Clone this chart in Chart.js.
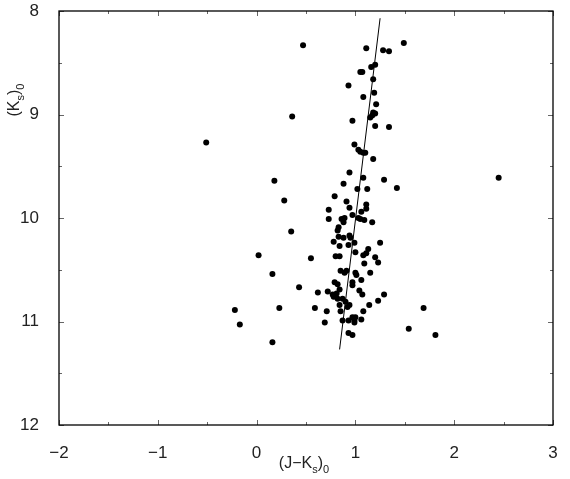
<!DOCTYPE html>
<html>
<head>
<meta charset="utf-8">
<script src="https://cdn.jsdelivr.net/npm/chart.js@4.4.1/dist/chart.umd.min.js"></script>
<style>
html, body { margin: 0; padding: 0; background: #fff; }
</style>
</head>
<body>
<canvas id="cmd" width="570" height="479"></canvas>
<script>
// colour (J-Ks)0 and magnitude (Ks)0 of each star
var colorJK = [
  0.47, 1.11, 1.28, 1.34, 1.49, 1.20, 1.16, 1.05, 1.07, 1.18,
  0.93, 1.19, 1.08, 1.21, 0.36, 1.18, 1.20, 1.17, 1.15, 0.97,
  1.20, 1.34, -0.51, 0.99, 1.03, 1.05, 1.08, 1.10, 1.18, 0.94,
  0.18, 1.08, 1.29, 2.45, 0.88, 1.02, 1.12, 1.42, 0.79, 0.28,
  0.91, 0.94, 1.11, 1.11, 0.73, 1.06, 0.97, 0.73, 0.86, 0.89,
  1.03, 1.05, 1.09, 1.17, 0.88, 0.83, 0.35, 0.82, 0.83, 0.88,
  0.94, 0.95, 0.78, 0.84, 0.93, 0.99, 1.25, 1.13, 1.00, 0.02,
  0.55, 0.80, 0.84, 1.08, 1.11, 1.20, 1.23, 1.09, 0.16, 0.85,
  0.89, 0.91, 1.00, 1.01, 1.15, 1.06, 0.43, 0.79, 0.82, 0.97,
  0.97, 0.62, 0.72, 0.77, 0.81, 0.84, 1.04, 1.07, 1.29, 0.78,
  0.82, 0.87, 0.90, 0.92, 0.94, 0.84, 0.85, 1.14, 1.23, 0.23,
  0.59, -0.22, 0.71, 1.08, 1.69, -0.17, 0.69, 0.87, 0.93, 0.97,
  0.99, 1.00, 1.06, 0.99, 1.54, 0.93, 0.97, 1.81, 0.16
];
var magK = [
  8.33, 8.36, 8.38, 8.39, 8.31, 8.52, 8.54, 8.59, 8.59, 8.66,
  8.72, 8.79, 8.83, 8.90, 9.02, 8.98, 8.99, 9.01, 9.03, 9.06,
  9.11, 9.12, 9.27, 9.29, 9.34, 9.36, 9.37, 9.37, 9.43, 9.56,
  9.64, 9.61, 9.63, 9.61, 9.67, 9.72, 9.72, 9.71, 9.79, 9.83,
  9.84, 9.90, 9.87, 9.91, 9.92, 9.94, 9.97, 10.01, 10.01, 10.00,
  10.00, 10.01, 10.02, 10.04, 10.04, 10.09, 10.13, 10.12, 10.18, 10.19,
  10.17, 10.19, 10.23, 10.27, 10.26, 10.24, 10.24, 10.30, 10.33, 10.36,
  10.39, 10.37, 10.37, 10.36, 10.34, 10.38, 10.43, 10.44, 10.54, 10.51,
  10.53, 10.51, 10.53, 10.55, 10.53, 10.60, 10.67, 10.62, 10.64, 10.62,
  10.65, 10.72, 10.71, 10.74, 10.73, 10.69, 10.70, 10.74, 10.74, 10.76,
  10.78, 10.78, 10.81, 10.86, 10.84, 10.84, 10.90, 10.84, 10.80, 10.87,
  10.87, 10.89, 10.90, 10.90, 10.87, 11.03, 11.01, 10.99, 10.99, 10.96,
  10.99, 10.96, 10.98, 11.01, 11.07, 11.11, 11.13, 11.13, 11.20
];
// fitted sequence line
var fitJK = [0.84, 1.25];
var fitK = [11.27, 8.07];

var xMin = -2, xMax = 3;
var yMin = 8, yMax = 12;

var stars = colorJK.map(function (v, i) { return { x: v, y: magK[i] }; });
var fit = fitJK.map(function (v, i) { return { x: v, y: fitK[i] }; });

var textColor = '#222';
var bigFont = '16px "Liberation Sans", Arial, sans-serif';
var smallFont = '11px "Liberation Sans", Arial, sans-serif';

function drawSub(c, parts, x, y) {
  // parts: [text, isSub]
  parts.forEach(function (p) {
    c.font = p[1] ? smallFont : bigFont;
    c.fillText(p[0], x, p[1] ? y + 5 : y);
    x += c.measureText(p[0]).width;
  });
}
function subWidth(c, parts) {
  var w = 0;
  parts.forEach(function (p) {
    c.font = p[1] ? smallFont : bigFont;
    w += c.measureText(p[0]).width;
  });
  return w;
}

var frameAndTicks = {
  id: 'frameAndTicks',
  afterDraw: function (chart) {
    var c = chart.ctx, a = chart.chartArea;
    var xs = chart.scales.x, ys = chart.scales.y;
    c.save();
    c.strokeStyle = '#666';
    c.lineWidth = 1;
    c.beginPath();
    for (var v = xMin; v <= xMax; v += 0.5) {
      var len = (v % 1 === 0) ? 5 : 3;
      var px = Math.round(xs.getPixelForValue(v)) + 0.5;
      c.moveTo(px, a.bottom); c.lineTo(px, a.bottom - len);
      c.moveTo(px, a.top); c.lineTo(px, a.top + len);
    }
    for (var w = yMin; w <= yMax; w += 0.5) {
      var l2 = (w % 1 === 0) ? 5 : 3;
      var py = Math.round(ys.getPixelForValue(w)) + 0.5;
      c.moveTo(a.left, py); c.lineTo(a.left + l2, py);
      c.moveTo(a.right, py); c.lineTo(a.right - l2, py);
    }
    c.stroke();
    c.strokeStyle = '#000';
    c.lineWidth = 1.3;
    c.strokeRect(a.left, a.top, a.right - a.left, a.bottom - a.top);

    // axis titles
    c.fillStyle = textColor;
    c.textBaseline = 'alphabetic';
    c.textAlign = 'left';
    var xt = [['(J\u2212K', false], ['s', true], [')', false], ['0', true]];
    var wx = subWidth(c, xt);
    drawSub(c, xt, 304 - wx / 2, 468);

    var yt = [['(K', false], ['s', true], [')', false], ['0', true]];
    var wy = subWidth(c, yt);
    c.translate(19, 100);
    c.rotate(-Math.PI / 2);
    drawSub(c, yt, -wy / 2, 0);
    c.restore();
  }
};

new Chart(document.getElementById('cmd'), {
  type: 'scatter',
  data: {
    datasets: [
      {
        data: fit,
        showLine: true,
        borderColor: '#000',
        borderWidth: 1,
        pointRadius: 0,
        order: 2
      },
      {
        data: stars,
        backgroundColor: '#000',
        borderWidth: 0,
        pointRadius: 3,
        order: 1
      }
    ]
  },
  options: {
    responsive: false,
    animation: false,
    devicePixelRatio: 1,
    layout: { padding: { top: 11, right: 17, left: 0, bottom: 0 } },
    plugins: { legend: { display: false }, tooltip: { enabled: false } },
    scales: {
      x: {
        type: 'linear',
        min: xMin, max: xMax,
        grid: { display: false },
        border: { display: false },
        ticks: {
          stepSize: 1,
          padding: 10,
          color: textColor,
          font: { size: 17, family: '"Liberation Sans", Arial, sans-serif' },
          callback: function (v) { return v < 0 ? '\u2212' + Math.abs(v) : String(v); }
        },
        afterFit: function (s) { s.height = 54; s.paddingLeft = 0; s.paddingRight = 0; }
      },
      y: {
        type: 'linear',
        min: yMin, max: yMax,
        reverse: true,
        grid: { display: false },
        border: { display: false },
        ticks: {
          stepSize: 1,
          padding: 12,
          color: textColor,
          font: { size: 17, family: '"Liberation Sans", Arial, sans-serif' }
        },
        afterFit: function (s) { s.width = 59; s.paddingTop = 0; s.paddingBottom = 0; }
      }
    }
  },
  plugins: [frameAndTicks]
});
</script>
</body>
</html>
